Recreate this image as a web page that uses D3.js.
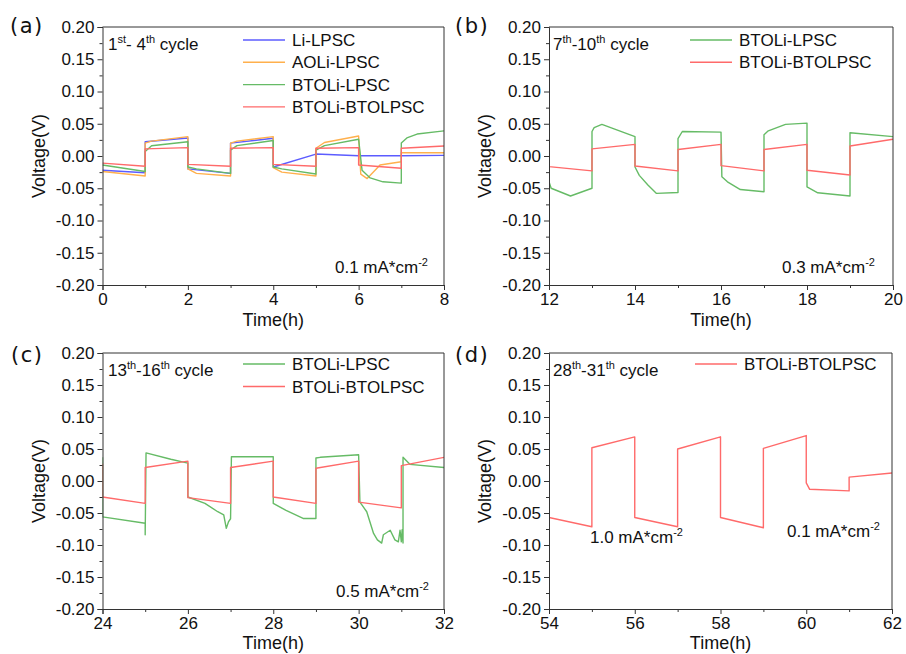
<!DOCTYPE html>
<html><head><meta charset="utf-8">
<script src="https://cdn.jsdelivr.net/npm/d3@7"></script>
<style>html,body{margin:0;padding:0;background:#fff;}svg{display:block;}</style>
</head><body>
<svg id="chart" width="906" height="654"></svg>
<script>
// ---------- DATA ----------
const yTicks = [-0.20,-0.15,-0.10,-0.05,0.00,0.05,0.10,0.15,0.20];
const xTicksA = [0,2,4,6,8];
const xTicksB = [12,14,16,18,20];
const xTicksC = [24,26,28,30,32];
const xTicksD = [54,56,58,60,62];

// Panel (a): 1st-4th cycle, 0.1 mA/cm2  [time(h), voltage(V)]
const a_LiLPSC = [[0,-0.022],[1,-0.026],[1,0.022],[2,0.028],[2,-0.020],[3,-0.027],[3,0.020],[4,0.0275],[4,-0.017],[5,0.003],[6,0.0005],[7,0.0005],[8,0.001]];
const a_AOLiLPSC = [[0,-0.024],[1,-0.031],[1,0.020],[1.15,0.023],[2,0.030],[2,-0.020],[2.2,-0.027],[3,-0.031],[3,0.020],[3.15,0.023],[4,0.030],[4,-0.018],[4.2,-0.025],[5,-0.031],[5,0.012],[5.2,0.021],[6,0.031],[6.05,-0.028],[6.2,-0.035],[6.43,-0.019],[6.5,-0.014],[7,-0.009],[7,0.005],[8,0.005]];
const a_BTOLiLPSC = [[0,-0.014],[1,-0.024],[1,0.007],[1.15,0.016],[2,0.022],[2,-0.017],[2.2,-0.020],[3,-0.027],[3,0.009],[3.15,0.016],[4,0.024],[4,-0.017],[4.2,-0.020],[5,-0.028],[5,0.009],[5.2,0.016],[6,0.026],[6.08,-0.022],[6.27,-0.034],[6.57,-0.040],[7,-0.042],[7,0.020],[7.13,0.028],[7.37,0.034],[8,0.039]];
const a_BTOLiBTOLPSC = [[0,-0.011],[1,-0.016],[1,0.011],[2,0.013],[2,-0.013],[3,-0.016],[3,0.012],[4,0.013],[4,-0.013],[5,-0.016],[5,0.012],[6,0.013],[6,-0.014],[7,-0.019],[7,0.012],[8,0.0155]];

// Panel (b): 7th-10th cycle, 0.3 mA/cm2
const b_BTOLiLPSC = [[12,0.042],[12,-0.040],[12.05,-0.050],[12.5,-0.062],[13,-0.050],[13,0.038],[13.05,0.044],[13.23,0.049],[14,0.030],[14,-0.017],[14.1,-0.030],[14.3,-0.045],[14.5,-0.058],[15,-0.0565],[15,0.027],[15.1,0.038],[16,0.037],[16.02,-0.032],[16.15,-0.040],[16.45,-0.052],[17,-0.0555],[17,0.033],[17.1,0.039],[17.5,0.049],[18,0.051],[18,-0.048],[18.25,-0.057],[19,-0.062],[19,0.036],[20,0.030]];
const b_BTOLiBTOLPSC = [[12,0.0145],[12,-0.0165],[13,-0.023],[13,0.011],[14,0.018],[14,-0.0155],[15,-0.023],[15,0.010],[16,0.018],[16,-0.015],[17,-0.023],[17,0.010],[18,0.018],[18,-0.022],[19,-0.0295],[19,0.0155],[20,0.026]];

// Panel (c): 13th-16th cycle, 0.5 mA/cm2
const c_BTOLiLPSC = [[24,0.037],[24,-0.056],[25,-0.066],[25,-0.084],[25.02,0.044],[25.6,0.034],[26,0.028],[26,-0.025],[26.4,-0.035],[26.7,-0.048],[26.84,-0.053],[26.9,-0.074],[26.95,-0.064],[27,-0.059],[27.02,0.038],[28,0.038],[28,-0.035],[28.3,-0.046],[28.7,-0.0585],[29,-0.0585],[29,0.036],[29.1,0.037],[30,0.041],[30.03,-0.033],[30.19,-0.048],[30.35,-0.082],[30.44,-0.092],[30.54,-0.097],[30.58,-0.084],[30.74,-0.077],[30.85,-0.092],[30.93,-0.095],[30.97,-0.077],[31,-0.095],[31.02,-0.076],[31.04,-0.097],[31.04,0.037],[31.2,0.026],[32,0.021]];
const c_BTOLiBTOLPSC = [[24,0.027],[24,-0.025],[25,-0.035],[25,0.021],[26,0.031],[26,-0.026],[27,-0.035],[27,0.021],[28,0.031],[28,-0.025],[29,-0.035],[29,0.020],[30,0.031],[30,-0.033],[31,-0.042],[31,0.024],[32,0.037]];

// Panel (d): 28th-31th cycle, 1.0 then 0.1 mA/cm2
const d_BTOLiBTOLPSC = [[54,0.063],[54,-0.057],[55,-0.0715],[55,0.052],[56,0.069],[56,-0.057],[57,-0.0715],[57,0.050],[58,0.069],[58,-0.057],[59,-0.073],[59,0.051],[60,0.071],[60,-0.003],[60.08,-0.013],[61,-0.0155],[61,0.006],[62,0.0125]];

const seriesNames = ["Li-LPSC","AOLi-LPSC","BTOLi-LPSC","BTOLi-BTOLPSC"];
const colors = {"Li-LPSC":"#5c5cff","AOLi-LPSC":"#ffb04d","BTOLi-LPSC":"#66bb66","BTOLi-BTOLPSC":"#ff6a6a"};

// ---------- LAYOUT ----------
const FONT = "'Liberation Sans', Arial, sans-serif";
const panels = [
  {label:"(a)", lx:10, ly:33, left:102.5, right:444, top:27, bottom:285, titleDy:41, xDomain:[0,8], xTicks:xTicksA,
   series:[["Li-LPSC",a_LiLPSC],["AOLi-LPSC",a_AOLiLPSC],["BTOLi-LPSC",a_BTOLiLPSC],["BTOLi-BTOLPSC",a_BTOLiBTOLPSC]],
   legend:{x:243, y:40, dy:22.3, names:["Li-LPSC","AOLi-LPSC","BTOLi-LPSC","BTOLi-BTOLPSC"]},
   texts:[{x:108,y:50,parts:[["1"],["st",1],["- 4"],["th",1],[" cycle"]]},{x:335,y:273,parts:[["0.1 mA*cm"],["-2",1]]}]},
  {label:"(b)", lx:455, ly:33, left:549, right:893, top:27, bottom:285, titleDy:41, xDomain:[12,20], xTicks:xTicksB,
   series:[["BTOLi-LPSC",b_BTOLiLPSC],["BTOLi-BTOLPSC",b_BTOLiBTOLPSC]],
   legend:{x:690, y:40, dy:22.3, names:["BTOLi-LPSC","BTOLi-BTOLPSC"]},
   texts:[{x:553,y:50,parts:[["7"],["th",1],["-10"],["th",1],[" cycle"]]},{x:782,y:273,parts:[["0.3 mA*cm"],["-2",1]]}]},
  {label:"(c)", lx:11, ly:362, left:102.5, right:444, top:353, bottom:609, titleDy:40, xDomain:[24,32], xTicks:xTicksC,
   series:[["BTOLi-LPSC",c_BTOLiLPSC],["BTOLi-BTOLPSC",c_BTOLiBTOLPSC]],
   legend:{x:243, y:364, dy:22.5, names:["BTOLi-LPSC","BTOLi-BTOLPSC"]},
   texts:[{x:108,y:376,parts:[["13"],["th",1],["-16"],["th",1],[" cycle"]]},{x:336,y:597,parts:[["0.5 mA*cm"],["-2",1]]}]},
  {label:"(d)", lx:455, ly:362, left:549, right:892, top:353, bottom:609, titleDy:40, xDomain:[54,62], xTicks:xTicksD,
   series:[["BTOLi-BTOLPSC",d_BTOLiBTOLPSC]],
   legend:{x:695, y:364, dy:22.5, names:["BTOLi-BTOLPSC"]},
   texts:[{x:553,y:376,parts:[["28"],["th",1],["-31"],["th",1],[" cycle"]]},{x:590,y:543,parts:[["1.0 mA*cm"],["-2",1]]},{x:787,y:537,parts:[["0.1 mA*cm"],["-2",1]]}]}
];

const svg = d3.select("#chart");
svg.append("rect").attr("width",906).attr("height",654).attr("fill","#fff");

function richText(g, t){
  const txt = g.append("text").attr("x",t.x).attr("y",t.y)
    .attr("font-family",FONT).attr("font-size",17).attr("fill","#111");
  let shifted = false;
  t.parts.forEach(p=>{
    const ts = txt.append("tspan").text(p[0]);
    if(p[1]){ ts.attr("font-size",11).attr("dy", shifted? 0 : -7); shifted = true; }
    else if(shifted){ ts.attr("dy",7); shifted = false; }
  });
}

panels.forEach((p,i)=>{
  const g = svg.append("g");
  const x = d3.scaleLinear().domain(p.xDomain).range([p.left,p.right]);
  const y = d3.scaleLinear().domain([-0.20,0.20]).range([p.bottom,p.top]);

  const cid = "clip"+i;
  g.append("clipPath").attr("id",cid).append("rect")
    .attr("x",p.left).attr("y",p.top).attr("width",p.right-p.left).attr("height",p.bottom-p.top);

  const line = d3.line().x(d=>x(d[0])).y(d=>y(d[1]));
  const lg = g.append("g").attr("clip-path",`url(#${cid})`);
  p.series.forEach(([name,data])=>{
    lg.append("path").datum(data).attr("d",line).attr("fill","none")
      .attr("stroke",colors[name]).attr("stroke-width",1.4).attr("stroke-linejoin","round");
  });

  const minorX = d3.range(p.xDomain[0]+1,p.xDomain[1],2);
  const minorY = d3.range(-0.175,0.2,0.05);
  const xAxis = g.append("g").attr("transform",`translate(0,${p.bottom})`)
    .call(d3.axisBottom(x).tickValues(p.xTicks).tickFormat(d3.format("d")).tickSizeOuter(0).tickSize(5).tickPadding(2));
  g.append("g").attr("transform",`translate(0,${p.bottom})`)
    .call(d3.axisBottom(x).tickValues(minorX).tickFormat("").tickSizeOuter(0).tickSize(3))
    .select(".domain").remove();
  const yAxis = g.append("g").attr("transform",`translate(${p.left},0)`)
    .call(d3.axisLeft(y).tickValues(yTicks).tickFormat(v=>v.toFixed(2).replace("−","-")).tickSizeOuter(0).tickSize(5).tickPadding(3));
  g.append("g").attr("transform",`translate(${p.left},0)`)
    .call(d3.axisLeft(y).tickValues(minorY).tickFormat("").tickSizeOuter(0).tickSize(3))
    .select(".domain").remove();
  [xAxis,yAxis].forEach(ax=>{
    ax.selectAll("text").attr("font-family",FONT).attr("font-size",17).attr("fill","#111");
    ax.selectAll("line,path").attr("stroke","#333");
  });
  xAxis.selectAll("text").attr("dy","0.76em");
  g.append("path").attr("d",`M${p.left},${p.top}H${p.right}V${p.bottom}`)
    .attr("fill","none").attr("stroke","#333");
  g.selectAll(".tick line").attr("stroke","#333");

  g.append("text").attr("x",(p.left+p.right)/2).attr("y",p.bottom+p.titleDy).attr("text-anchor","middle")
    .attr("font-family",FONT).attr("font-size",18).attr("fill","#111").text("Time(h)");
  g.append("text").attr("transform",`translate(${p.left-58},${(p.top+p.bottom)/2}) rotate(-90)`)
    .attr("text-anchor","middle").attr("font-family",FONT).attr("font-size",18).attr("fill","#111").text("Voltage(V)");

  g.append("text").attr("x",p.lx).attr("y",p.ly).attr("font-family","'DejaVu Sans', sans-serif")
    .attr("font-size",21).attr("letter-spacing",1.5).attr("fill","#111").text(p.label);

  p.legend.names.forEach((n,k)=>{
    const yy = p.legend.y + k*p.legend.dy;
    g.append("line").attr("x1",p.legend.x).attr("x2",p.legend.x+42).attr("y1",yy).attr("y2",yy)
      .attr("stroke",colors[n]).attr("stroke-width",1.4);
    g.append("text").attr("x",p.legend.x+49).attr("y",yy+6).attr("font-family",FONT)
      .attr("font-size",17).attr("fill","#111").text(n);
  });

  p.texts.forEach(t=>richText(g,t));
});
</script>
</body></html>
